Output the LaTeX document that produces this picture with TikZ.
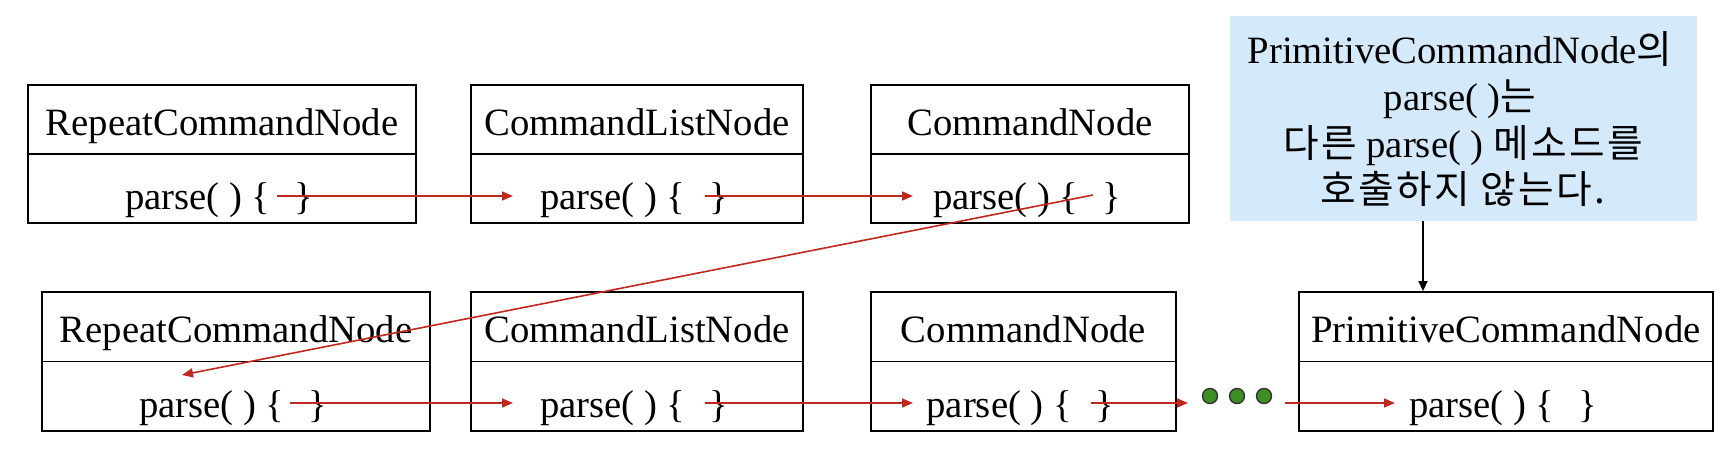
\documentclass[tikz,border=0pt]{standalone}
\usepackage{fontspec}
\setmainfont{Liberation Serif}
\newfontfamily\kr[LetterSpace=6]{Noto Sans CJK KR}
\usetikzlibrary{arrows.meta}
\definecolor{redline}{RGB}{192,40,30}
\definecolor{notefill}{RGB}{212,234,251}
\definecolor{dotgreen}{RGB}{62,142,38}
\tikzset{
  cls/.style={draw, line width=1.8pt, rectangle, inner sep=0pt},
  divider/.style={line width=1.8pt},
  txt/.style={anchor=base, inner sep=0pt, font=\fontsize{38.7pt}{46pt}\selectfont},
  call/.style={draw=redline, line width=1.6pt, -{Triangle[length=11pt,width=9pt]}},
  note/.style={fill=notefill, inner sep=0pt},
  noteline/.style={line width=1.5pt, -{Triangle[length=10pt,width=9pt]}},
  dot/.style={circle, draw=black!80, line width=1.4pt, fill=dotgreen, minimum size=15pt, inner sep=0pt},
}
\newcommand\parsetext{parse( ) \{\hspace{24pt}\}}
\begin{document}
\begin{tikzpicture}[x=1pt,y=-1pt]
\useasboundingbox (0,0) rectangle (1724,448);

% ---- top row ----
\node[cls, minimum width=388pt, minimum height=138pt] (c1) at (222,154) {};
\node[cls, minimum width=332pt, minimum height=138pt] (c2) at (637,154) {};
\node[cls, minimum width=318pt, minimum height=138pt] (c3) at (1030,154) {};
\draw[divider] (c1.west) -- (c1.east);
\draw[divider] (c2.west) -- (c2.east);
\draw[divider] (c3.west) -- (c3.east);
\node[txt] (t1) at (222,135) {RepeatCommandNode};
\node[txt] (t2) at (637,135) {CommandListNode};
\node[txt] (t3) at (1030,135) {CommandNode};
\node[txt] (p1) at (219,209) {\parsetext};
\node[txt] (p2) at (634,209) {\parsetext};
\node[txt] (p3) at (1027,209) {\parsetext};

% ---- bottom row ----
\node[cls, minimum width=388pt, minimum height=139pt] (c4) at (236,361.5) {};
\node[cls, minimum width=332pt, minimum height=139pt] (c5) at (637,361.5) {};
\node[cls, minimum width=305pt, minimum height=139pt] (c6) at (1023.5,361.5) {};
\node[cls, minimum width=414pt, minimum height=139pt] (c7) at (1506,361.5) {};
\draw[divider] (c4.west) -- (c4.east);
\draw[divider] (c5.west) -- (c5.east);
\draw[divider] (c6.west) -- (c6.east);
\draw[divider] (c7.west) -- (c7.east);
\node[txt] (t4) at (236,342) {RepeatCommandNode};
\node[txt] (t5) at (637,342) {CommandListNode};
\node[txt] (t6) at (1023.5,342) {CommandNode};
\node[txt] (t7) at (1506,342) {PrimitiveCommandNode};
\node[txt] (p4) at (233,417) {\parsetext};
\node[txt] (p5) at (634,417) {\parsetext};
\node[txt] (p6) at (1020.5,417) {\parsetext};
\node[txt] (p7) at (1503,417) {\parsetext};

% ---- dots ----
\node[dot] (d1) at (1210,396) {};
\node[dot] (d2) at (1237,396) {};
\node[dot] (d3) at (1264,396) {};

% ---- note ----
\node[note, minimum width=467pt, minimum height=205pt] (note) at (1463.5,118.5) {};
\node[txt] (n1) at (1460,63) {PrimitiveCommandNode{\kr 의}};
\node[txt] (n2) at (1460,110) {parse( ){\kr 는}};
\node[txt] (n3) at (1463,157) {{\kr 다른} parse( ) {\kr 메소드를}};
\node[txt] (n4) at (1463,203) {{\kr 호출하지 않는다.}};
\coordinate (nx) at (1423,0);
\draw[noteline] (note.south -| nx) -- (c7.north -| nx);

% ---- call arrows ----
\coordinate (s1) at (277,196);  \coordinate (e1) at (513,196);
\coordinate (s2) at (705,196);  \coordinate (e2) at (913,196);
\coordinate (s3) at (1093,195); \coordinate (e3) at (182,375);
\coordinate (s4) at (290,403);  \coordinate (e4) at (513,403);
\coordinate (s5) at (705,403);  \coordinate (e5) at (913,403);
\coordinate (s6) at (1091,403); \coordinate (e6) at (1188,403);
\coordinate (s7) at (1285,403); \coordinate (e7) at (1395,403);
\draw[call] (s1) -- (e1);
\draw[call] (s2) -- (e2);
\draw[call] (s3) -- (e3);
\draw[call] (s4) -- (e4);
\draw[call] (s5) -- (e5);
\draw[call] (s6) -- (e6);
\draw[call] (s7) -- (e7);
\end{tikzpicture}
\end{document}
